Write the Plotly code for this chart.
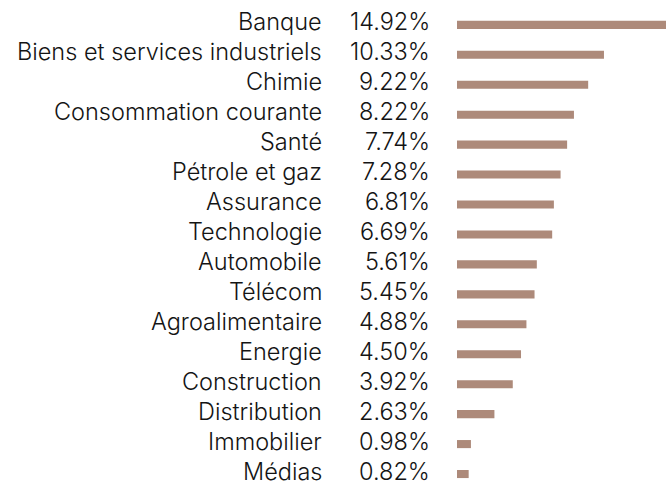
import plotly.graph_objects as go

categories = ["Banque", "Biens et services industriels", "Chimie", "Consommation courante",
              "Santé", "Pétrole et gaz", "Assurance", "Technologie", "Automobile", "Télécom",
              "Agroalimentaire", "Energie", "Construction", "Distribution", "Immobilier", "Médias"]
values = [14.92, 10.33, 9.22, 8.22, 7.74, 7.28, 6.81, 6.69, 5.61, 5.45, 4.88, 4.50, 3.92, 2.63, 0.98, 0.82]

W, H = 666, 486
left = 457

fig = go.Figure(go.Bar(
    x=values, y=categories, orientation="h",
    marker=dict(color="#AD8A7A", line=dict(width=0)),
    hoverinfo="skip",
))

font = dict(family="Inter", size=23.5, color="#141414", weight=300)
for c, v in zip(categories, values):
    fig.add_annotation(x=0, y=c, xref="x", yref="y", text=c, showarrow=False,
                       xanchor="right", yanchor="middle", xshift=-133, yshift=3, font=font)
    fig.add_annotation(x=0, y=c, xref="x", yref="y", text=f"{v:.2f}%", showarrow=False,
                       xanchor="right", yanchor="middle", xshift=-25, yshift=3, font=font)

fig.update_layout(
    width=W, height=H,
    margin=dict(l=left, r=0, t=0, b=0, pad=0),
    paper_bgcolor="white", plot_bgcolor="white",
    bargap=0.73, showlegend=False,
    xaxis=dict(range=[0, 14.69], visible=False, fixedrange=True),
    yaxis=dict(range=[15.40, -0.83], autorange=False, visible=False, fixedrange=True),
)
fig.write_html("out.html", config={"displayModeBar": False},
               post_script="document.body.style.margin='0';document.body.style.overflow='hidden';")
